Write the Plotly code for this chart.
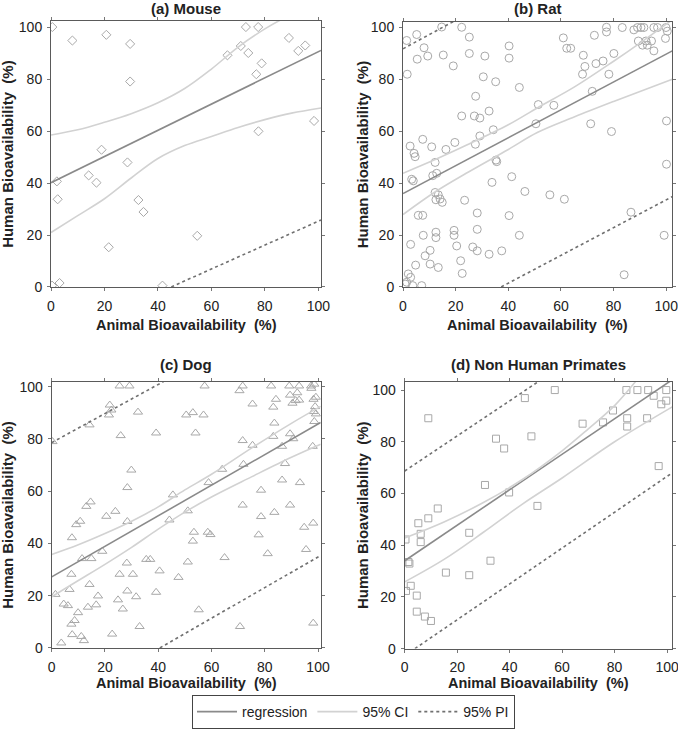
import plotly.graph_objects as go

W, H = 678, 729

# ---------------- data ----------------
mouse_x = [0.5, 8, 20.7, 29.6, 29.6, 18.9, 28.6, 14.1, 17, 2.2, 2.5, 32.7, 34.6, 21.6, 54.7,
           41.7, 0.4, 3.2, 66, 71, 72.9, 73.8, 77.5, 76.8, 78.8, 77.6, 89, 92.5, 95.1, 98.4]
mouse_y = [100.2, 95, 97.2, 93.7, 79.2, 52.9, 48, 43, 40.2, 40.7, 33.8, 33.5, 28.9, 15.3, 19.7,
           0.5, 0.5, 1.5, 89.3, 92.9, 100.2, 90.2, 100.2, 82, 86.2, 60, 96, 91, 93.1, 64]

rat_x = [1.4, 5.2, 14.7, 22.3, 8, 5.4, 9.4, 1.6, 15.3, 19.1, 25.2, 25.2, 31.1, 30.5, 35.2, 40.3,
         40.3, 44.2, 27.6, 22.3, 27.1, 29.2, 32.7, 34.3, 29.2, 19.7, 27.5, 7.5, 10.9, 2.7, 4.2,
         4.6, 16.3, 3.3, 3.9, 12.2, 12.8, 11.3, 35.3, 35.6, 41.3, 33.8, 12.2, 13.4, 14.1, 12.5,
         14.9, 23.4, 46.3, 5.8, 7.5, 28.2, 40.3, 7.7, 12.5, 12.5, 19.4, 19.4, 28.2, 2.9, 20.4,
         10.3, 26.5, 28.2, 8.4, 32.7, 37.5, 44.2, 21.9, 4.8, 10.3, 13.4, 22.5, 2, 2.9, 1.4, 0.8,
         3.7, 7.1,
         51.4, 57.3, 50.5, 55.8, 61.3, 60.9, 62.2, 63.7, 68.5, 69.1, 68.2, 72.7, 73.3, 76, 71.9,
         71.3, 77.3, 77.3, 78.2, 80.1, 79.2, 83.3, 87.7, 89.1, 90.4, 91.5, 89.4, 91, 92.3, 92.8,
         94.4, 95.3, 95.3, 96.7, 99.9, 100.4, 99.7, 100.1, 100.1, 99.2, 86.6, 84]
rat_y = [95, 97.3, 100.2, 100.1, 92.2, 87.8, 89, 82, 89.4, 85.2, 96.3, 90, 89, 81, 79.1, 92.9,
         88.2, 76.9, 73.5, 65.9, 65.9, 65.1, 67.8, 60.6, 58.2, 55.7, 55, 56.9, 54, 54.3, 51.5,
         50.2, 53, 41.5, 40.9, 48, 43.8, 42.9, 48.9, 48.3, 42.5, 40.3, 36.4, 35.5, 33.9, 33.6,
         32.6, 33.4, 36.8, 27.6, 27.6, 28.5, 27.5, 19.9, 21.1, 19, 21.8, 19.9, 22.2, 16.4, 15.8,
         14.1, 15.4, 13.9, 12, 12.6, 13.9, 19.9, 10.1, 8.4, 8.8, 7.5, 5.2, 5, 3.7, 1.8, 1.1,
         0.5, 0.5,
         70.3, 70, 62.9, 35.5, 33.8, 96, 92, 92, 89.3, 85, 82, 97, 86.1, 87.1, 75.4,
         62.9, 100.1, 98.3, 82, 90, 59.9, 100, 99.1, 100, 100, 100, 94.8, 93.2, 94.8, 93.2,
         94.8, 91, 100, 100, 100, 98.6, 95.8, 64, 47.3, 19.9, 28.8, 4.7]

dog_x = [25.5, 29.2, 21.8, 22.4, 21.5, 32.4, 14.2, 25.9, 39.2, 29.9, 28.4, 45.5, 14.6, 13, 23.9,
         20.5, 28.4, 10.7, 9.2, 44.2, 7.6, 19, 11.4, 14.9, 35.5, 37, 28.2, 40.5, 47.6, 7.4, 25.5,
         30.5, 14.2, 6.7, 1.4, 28.4, 39.2, 17.4, 31.7, 24.9, 4.5, 6.1, 16.7, 13.6, 26.7, 9.9,
         8.6, 7.4, 33, 7.7, 11.1, 12.1, 22.7, 3.6, 0.3,
         57.4, 71.7, 70.5, 82.4, 89.2, 92.9, 97.4, 98.6, 75.4, 84.2, 83.2, 89.5, 92.2, 92.9,
         91.6, 90.4, 97.5, 99.2, 98.3, 98.9, 98.3, 99.2, 98.6, 50.5, 53, 57, 54, 83.6, 83.2,
         89.5, 90.7, 71.7, 75.4, 86.5, 98, 72, 64, 87.6, 86.5, 93.2, 58.9, 78.6, 71.7, 89.5,
         51.1, 78.6, 83.6, 98.2, 94.8, 53.4, 58.6, 59.6, 53, 77.7, 95.5, 81.1, 51.1, 64.9,
         55.2, 70.7, 98.2]
dog_y = [100.3, 100.3, 93, 91.1, 89.2, 90.3, 85.4, 81.3, 82.3, 68.1, 61.4, 58.6, 55.9, 54.2, 52.3,
         50.4, 48.4, 48.5, 47.2, 49, 42.2, 37, 34.2, 34.2, 33.9, 33.9, 32.5, 29.5, 27, 28.2, 28.2,
         28.2, 24.3, 22.4, 20.5, 21.8, 21.3, 19.9, 19.6, 18.4, 16.8, 16.2, 16.5, 15.6, 14.9, 13.5,
         10.5, 9.1, 8.2, 5.1, 4.4, 2.8, 5.3, 1.9, 79,
         100.3, 100.3, 98.5, 100.3, 100.3, 100.3, 100.3, 101, 93.4, 95.2, 92.2, 96.8, 97.7, 94.9,
         94.7, 93.7, 99.4, 96, 95.2, 92.4, 90.5, 89.6, 86.7, 89.2, 90.1, 89.2, 82.3, 86.1, 81,
         82, 80.1, 79.4, 77.6, 77.2, 77.2, 70.3, 68.4, 70.6, 64.3, 63.3, 63.3, 60.4, 54.7, 54.7,
         52.5, 50.3, 51.9, 47.8, 46.2, 44.3, 44.3, 43.4, 40.9, 43.3, 37.7, 36.1, 32.9, 34.6,
         14.6, 8.2, 9.5]

nhp_x = [57.2, 84.5, 88.7, 92.8, 99.7, 94.9, 99.7, 97.8, 45.8, 9, 79.4, 67.8, 75.6, 84.8, 84.8,
         92.4, 34.8, 48.3, 37.9, 96.8, 30.6, 39.8, 50.6, 12.6, 9, 5.2, 6.1, 6.1, 0.3, 24.6, 1.4,
         1.8, 32.7, 15.7, 24.6, 2.3, 0.5, 4.6, 4.6, 7.7, 10]
nhp_y = [100, 100, 100, 100, 100, 97.8, 95.9, 94.5, 96.9, 89.1, 92.1, 87, 87.5, 89.1, 85.9,
         89.1, 81.2, 82.1, 77.4, 70.6, 63.3, 60.4, 55.2, 54.2, 50.4, 48.5, 44.4, 41.2, 42.2, 44.8,
         33.5, 32.9, 34, 29.4, 28.4, 24.3, 22.3, 20.5, 14.3, 12.4, 10.7]

# fitted lines
mouse_reg_x, mouse_reg_y = [0, 101], [40.2, 91.2]
mouse_ciu_x = [0, 10, 20, 30, 40, 50, 60, 70, 80, 86]
mouse_ciu_y = [58.6, 60.6, 63.5, 66.8, 71, 76.5, 84, 92.5, 99.5, 103]
mouse_cil_x = [0, 10, 20, 30, 40, 50, 60, 70, 80, 90, 101]
mouse_cil_y = [21, 27.5, 34, 42, 49.5, 54.5, 58, 61.5, 64.5, 67, 69]
mouse_pil_x, mouse_pil_y = [45, 101], [0, 25.8]

rat_reg_x, rat_reg_y = [0, 102.3], [36, 91]
rat_ciu_x = [0, 12, 24, 40, 51, 65, 80, 90, 102.3]
rat_ciu_y = [43.8, 49, 54.6, 62.5, 69, 77, 87, 94, 103]
rat_cil_x = [0, 12, 24, 40, 51, 65, 80, 102.3]
rat_cil_y = [27.9, 36.5, 43.8, 53, 59.5, 65.5, 71.5, 80.1]
rat_piu_x, rat_piu_y = [0, 19.5], [91.8, 102.5]
rat_pil_x, rat_pil_y = [37.3, 102.3], [0, 34.8]

dog_reg_x, dog_reg_y = [0, 101], [27.2, 86.3]
dog_ciu_x = [0, 10, 20, 30, 40, 50, 60, 75, 90, 101]
dog_ciu_y = [35.8, 39.5, 43.8, 48.5, 54, 60.5, 66.5, 76.5, 86, 92.5]
dog_cil_x = [0, 10, 20, 30, 40, 50, 60, 75, 90, 101]
dog_cil_y = [19.6, 25.8, 32, 38.5, 45.5, 52, 57.8, 65.5, 73, 78]
dog_piu_x, dog_piu_y = [0, 42], [78.6, 102]
dog_pil_x, dog_pil_y = [40.6, 101], [0, 35.4]

nhp_reg_x, nhp_reg_y = [0, 102], [34, 104]
nhp_ciu_x = [0, 15, 30, 45, 60, 70, 80, 88]
nhp_ciu_y = [42.8, 49, 56.5, 65.5, 76.5, 85, 94, 103.3]
nhp_cil_x = [0, 15, 30, 45, 60, 80, 102]
nhp_cil_y = [25.8, 34.5, 45, 56, 66, 80, 93.5]
nhp_piu_x, nhp_piu_y = [0, 51], [68.7, 103.3]
nhp_pil_x, nhp_pil_y = [3.9, 102], [0, 68]

titles = ["(a) Mouse", "(b) Rat", "(c) Dog", "(d) Non Human Primates"]
x_title = "Animal Bioavailability  (%)"
y_title = "Human Bioavailability  (%)"
tick_vals = [0, 20, 40, 60, 80, 100]

# ---------------- styling / layout ----------------
REG_C, CI_C, PI_C, MK_C = "#8a8a8a", "#d2d2d2", "#707070", "#a8a8a8"
FONT = "Liberation Sans, Arial, sans-serif"

panels = [
    dict(mx=mouse_x, my=mouse_y, sym="diamond-open", size=7,
         reg=(mouse_reg_x, mouse_reg_y), ciu=(mouse_ciu_x, mouse_ciu_y), cil=(mouse_cil_x, mouse_cil_y),
         pis=[(mouse_pil_x, mouse_pil_y)],
         box=(51, 321, 21, 289.3), xr=[0, 101], yr=[0, 102.6]),
    dict(mx=rat_x, my=rat_y, sym="circle-open", size=8,
         reg=(rat_reg_x, rat_reg_y), ciu=(rat_ciu_x, rat_ciu_y), cil=(rat_cil_x, rat_cil_y),
         pis=[(rat_piu_x, rat_piu_y), (rat_pil_x, rat_pil_y)],
         box=(403, 672.3, 22, 289.3), xr=[0, 102.3], yr=[0, 102.2]),
    dict(mx=dog_x, my=dog_y, sym="triangle-up-open", size=8,
         reg=(dog_reg_x, dog_reg_y), ciu=(dog_ciu_x, dog_ciu_y), cil=(dog_cil_x, dog_cil_y),
         pis=[(dog_piu_x, dog_piu_y), (dog_pil_x, dog_pil_y)],
         box=(51.7, 320.7, 384.7, 653.3), xr=[0, 101], yr=[0, 102]),
    dict(mx=nhp_x, my=nhp_y, sym="square-open", size=7,
         reg=(nhp_reg_x, nhp_reg_y), ciu=(nhp_ciu_x, nhp_ciu_y), cil=(nhp_cil_x, nhp_cil_y),
         pis=[(nhp_piu_x, nhp_piu_y), (nhp_pil_x, nhp_pil_y)],
         box=(404.7, 672.3, 384.7, 654), xr=[0, 102], yr=[0, 103.3]),
]

fig = go.Figure()
annotations = []
layout_axes = {}
first = True
for i, p in enumerate(panels):
    n = "" if i == 0 else str(i + 1)
    xa, ya = "x" + n, "y" + n
    l, r, t, b = p["box"]
    common = dict(showline=True, linecolor="#5a5a5a", linewidth=1, mirror="ticks",
                  ticks="outside", ticklen=3, tickcolor="#777", tickwidth=1,
                  showgrid=False, zeroline=False, tickvals=tick_vals,
                  tickfont=dict(family=FONT, size=14, color="#222"), automargin=False,
                  fixedrange=True, ticklabeloverflow="allow")
    layout_axes["xaxis" + n] = dict(common, domain=[l / W, r / W], range=p["xr"], anchor=ya,
                                    ticklabelstandoff=3)
    layout_axes["yaxis" + n] = dict(common, domain=[1 - b / H, 1 - t / H], range=p["yr"], anchor=xa,
                                    ticklabelstandoff=2)

    fig.add_trace(go.Scatter(x=p["mx"], y=p["my"], mode="markers", xaxis=xa, yaxis=ya,
                             marker=dict(symbol=p["sym"], size=p["size"], color=MK_C,
                                         line=dict(width=1, color=MK_C)),
                             showlegend=False, cliponaxis=True, hoverinfo="skip"))
    fig.add_trace(go.Scatter(x=p["reg"][0], y=p["reg"][1], mode="lines", xaxis=xa, yaxis=ya,
                             line=dict(color=REG_C, width=1.6), name="regression",
                             legendgroup="reg", showlegend=first, hoverinfo="skip"))
    fig.add_trace(go.Scatter(x=p["ciu"][0], y=p["ciu"][1], mode="lines", xaxis=xa, yaxis=ya,
                             line=dict(color=CI_C, width=1.6, shape="spline"), name="95% CI",
                             legendgroup="ci", showlegend=first, hoverinfo="skip"))
    fig.add_trace(go.Scatter(x=p["cil"][0], y=p["cil"][1], mode="lines", xaxis=xa, yaxis=ya,
                             line=dict(color=CI_C, width=1.6, shape="spline"), name="95% CI",
                             legendgroup="ci", showlegend=False, hoverinfo="skip"))
    for j, (px_, py_) in enumerate(p["pis"]):
        fig.add_trace(go.Scatter(x=px_, y=py_, mode="lines", xaxis=xa, yaxis=ya,
                                 line=dict(color=PI_C, width=1.6, dash="dot"), name="95% PI",
                                 legendgroup="pi", showlegend=(first and j == 0), hoverinfo="skip"))
    first = False

    cx = (l + r) / 2
    title_y = 8.5 if i < 2 else 367.5
    xt_y = 328 if i < 2 else 689
    yt_x = 8 if i % 2 == 0 else 362
    annotations.append(dict(text=titles[i], x=cx / W, y=1 - title_y / H, xref="paper", yref="paper",
                            showarrow=False, xanchor="center", yanchor="middle",
                            font=dict(family=FONT, size=15, color="#222", weight="bold")))
    annotations.append(dict(text=x_title, x=cx / W, y=1 - xt_y / H, xref="paper", yref="paper",
                            showarrow=False, xanchor="center", yanchor="middle",
                            font=dict(family=FONT, size=14.5, color="#222", weight="bold")))
    annotations.append(dict(text=y_title, x=yt_x / W, y=1 - ((t + b) / 2) / H, xref="paper",
                            yref="paper", showarrow=False, xanchor="center", yanchor="middle",
                            textangle=-90,
                            font=dict(family=FONT, size=15, color="#222", weight="bold")))

fig.update_layout(
    width=W, height=H, margin=dict(l=0, r=0, t=0, b=0),
    paper_bgcolor="white", plot_bgcolor="white",
    annotations=annotations,
    legend=dict(orientation="h", x=353.5 / W, xanchor="center", y=1 - 701 / H, yanchor="top",
                bordercolor="#444", borderwidth=1, bgcolor="white",
                font=dict(family=FONT, size=14, color="#222"), itemwidth=40,
                tracegroupgap=0),
    **layout_axes,
)

fig.write_html("out.html", config={"displayModeBar": False, "staticPlot": True},
               post_script="document.body.style.margin='0';document.body.style.overflow='hidden';")
